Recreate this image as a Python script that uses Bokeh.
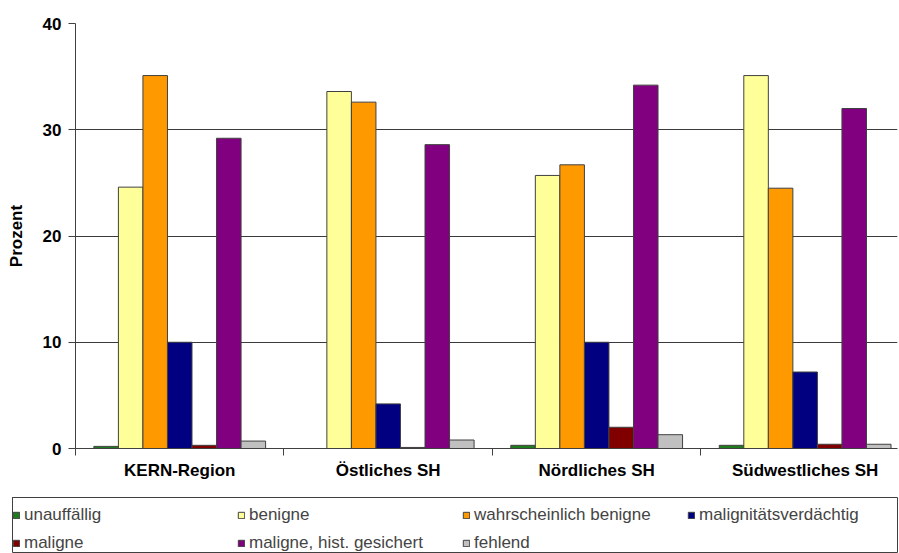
from bokeh.plotting import figure
from bokeh.layouts import column
from bokeh.models import (ColumnDataSource, Range1d, FixedTicker, Legend, LegendItem)
from bokeh.embed import file_html
from bokeh.resources import INLINE
import numpy as np

regions = ["KERN-Region", "Östliches SH", "Nördliches SH", "Südwestliches SH"]

categories = ["unauffällig", "benigne", "wahrscheinlich benigne", "malignitätsverdächtig",
              "maligne", "maligne, hist. gesichert", "fehlend"]

# percent per category, one value per region (same order as `regions`)
unauffaellig = [0.2, 0.0, 0.3, 0.3]
benigne = [24.6, 33.6, 25.7, 35.1]
wahrscheinlich_benigne = [35.1, 32.6, 26.7, 24.5]
malignitaetsverdaechtig = [10.0, 4.2, 10.0, 7.2]
maligne = [0.3, 0.1, 2.0, 0.4]
maligne_hist = [29.2, 28.6, 34.2, 32.0]
fehlend = [0.7, 0.8, 1.3, 0.4]

series = [unauffaellig, benigne, wahrscheinlich_benigne, malignitaetsverdaechtig,
          maligne, maligne_hist, fehlend]
colors = ["#1E7B1E", "#FFFF99", "#FF9900", "#000080", "#800000", "#800080", "#C0C0C0"]

y_ticks = [0, 10, 20, 30, 40]

FONT = "Liberation Sans"
bar_w = 0.1177

# ---- main bar chart ----
p = figure(width=899, height=490, output_backend="svg", toolbar_location=None,
           x_range=Range1d(0, 3.943), y_range=Range1d(0, 40),
           min_border_left=75, min_border_right=0, min_border_top=23, min_border_bottom=42)
p.outline_line_color = None
p.background_fill_color = "white"

group_idx = np.arange(len(regions))
sources = []
for i, (vals, col) in enumerate(zip(series, colors)):
    xs = group_idx + 0.5 + (i - 3) * bar_w
    src = ColumnDataSource(dict(x=xs, top=vals))
    sources.append(src)
    p.vbar(x="x", top="top", bottom=0, width=bar_w, source=src,
           fill_color=col, line_color="#404040", line_width=1)

# y axis
p.yaxis.ticker = FixedTicker(ticks=y_ticks)
p.yaxis.axis_label = "Prozent"
p.yaxis.axis_label_text_font = FONT
p.yaxis.axis_label_text_font_style = "bold"
p.yaxis.axis_label_text_font_size = "17px"
p.yaxis.axis_label_text_color = "black"
p.yaxis.axis_label_standoff = 14
p.yaxis.major_label_text_font = FONT
p.yaxis.major_label_text_font_style = "bold"
p.yaxis.major_label_text_font_size = "17px"
p.yaxis.major_label_text_color = "black"
p.yaxis.major_tick_out = 7
p.yaxis.major_tick_in = 0
p.yaxis.minor_tick_line_color = None
p.yaxis.axis_line_color = "#404040"
p.yaxis.major_tick_line_color = "#404040"
p.yaxis.major_label_standoff = 7

# x axis: labels at group centres, tick marks at group boundaries
centers = [k + 0.5 for k in range(len(regions))]
p.xaxis.ticker = FixedTicker(ticks=centers, minor_ticks=list(range(len(regions) + 1)))
p.xaxis.major_label_overrides = {c: lab for c, lab in zip(centers, regions)}
p.xaxis.major_tick_line_color = None
p.xaxis.major_tick_out = 0
p.xaxis.major_tick_in = 0
p.xaxis.minor_tick_out = 7
p.xaxis.minor_tick_in = 0
p.xaxis.minor_tick_line_color = "#404040"
p.xaxis.axis_line_color = "#404040"
p.xaxis.major_label_text_font = FONT
p.xaxis.major_label_text_font_style = "bold"
p.xaxis.major_label_text_font_size = "17px"
p.xaxis.major_label_text_color = "black"
p.xaxis.major_label_standoff = 5

p.xgrid.grid_line_color = None
p.ygrid.grid_line_color = "#3a3a3a"
p.ygrid.grid_line_width = 1

# ---- legend strip below the chart ----
# the strip's frame outline forms the legend box; its view window lies away
# from the bars, so its renderers only serve as legend swatches
leg = figure(width=899, height=63, output_backend="svg", toolbar_location=None,
             x_range=Range1d(10, 11), y_range=Range1d(-2, -1),
             x_axis_location=None, y_axis_location=None,
             min_border_left=12, min_border_right=2, min_border_top=7, min_border_bottom=0)
leg.frame_align = False
leg.outline_line_color = "#404040"
leg.outline_line_width = 1
leg.xgrid.grid_line_color = None
leg.ygrid.grid_line_color = None

items = []
for name, col, src in zip(categories, colors, sources):
    r = leg.vbar(x="x", top="top", bottom=0, width=bar_w, source=src,
                 fill_color=col, line_color="#404040", line_width=1)
    items.append(LegendItem(label=name, renderers=[r], index=0))

legend = Legend(items=items, orientation="horizontal", ncols=4,
                location=(0, 0),
                label_text_font=FONT, label_text_font_size="17px",
                label_width=205, label_height=20, label_standoff=4,
                glyph_width=8, glyph_height=8,
                spacing=8, padding=7, margin=0,
                border_line_color=None,
                background_fill_color=None)
leg.add_layout(legend, "center")

layout = column(p, leg, spacing=0)
open("out.html", "w").write(file_html(layout, INLINE))
